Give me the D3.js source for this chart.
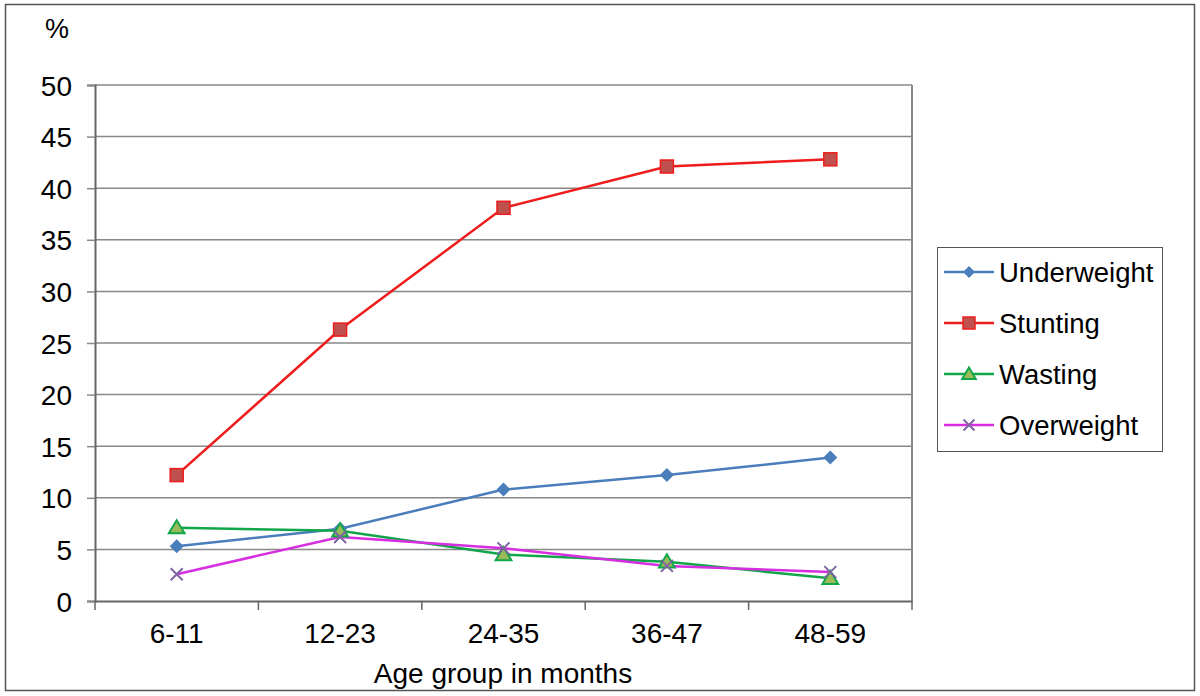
<!DOCTYPE html>
<html><head><meta charset="utf-8">
<script src="https://cdn.jsdelivr.net/npm/d3@7"></script>
<style>body{margin:0;background:#fff}svg{display:block}text{font-family:"Liberation Sans",Arial,sans-serif;fill:#000}</style>
</head><body><svg id="c" width="1200" height="696"></svg>
<script>
const categories = ["6-11","12-23","24-35","36-47","48-59"];
const underweight = [5.3, 7.0, 10.8, 12.2, 13.9];
const stunting = [12.2, 26.3, 38.1, 42.1, 42.8];
const wasting = [7.1, 6.8, 4.5, 3.8, 2.2];
const overweight = [2.6, 6.2, 5.1, 3.4, 2.8];
const yTicks = [0,5,10,15,20,25,30,35,40,45,50];
const seriesNames = ["Underweight","Stunting","Wasting","Overweight"];

const series = [
  {name: seriesNames[0], values: underweight, color: "#4a7ebb", marker: "diamond"},
  {name: seriesNames[1], values: stunting, color: "#ee1c1c", marker: "square"},
  {name: seriesNames[2], values: wasting, color: "#12a64a", marker: "triangle"},
  {name: seriesNames[3], values: overweight, color: "#d62ee0", marker: "x"}
];

const svg = d3.select("#c");
const L = 95, R = 912, T = 85, B = 601;
const FONT = "Liberation Sans, Arial, sans-serif";

svg.append("rect").attr("x",5.5).attr("y",4.5).attr("width",1189).attr("height",686)
  .attr("fill","none").attr("stroke","#555").attr("stroke-width",1.5);

const x = d3.scaleBand().domain(categories).range([L,R]);
const y = d3.scaleLinear().domain([0,50]).range([B,T]);

// gridlines
svg.append("g").selectAll("line").data(yTicks.filter(d=>d>0)).join("line")
  .attr("x1",L).attr("x2",R).attr("y1",d=>y(d)).attr("y2",d=>y(d))
  .attr("stroke","#888").attr("stroke-width",1.5);
// plot right border
svg.append("line").attr("x1",R).attr("x2",R).attr("y1",T).attr("y2",B).attr("stroke","#888").attr("stroke-width",2);

// y axis
const ya = svg.append("g").attr("transform",`translate(${L},0)`)
  .call(d3.axisLeft(y).tickValues(yTicks).tickSize(8).tickPadding(15));
ya.select(".domain").attr("stroke","#666").attr("stroke-width",2);
ya.selectAll(".tick line").attr("stroke","#888").attr("stroke-width",1.5);
ya.selectAll(".tick text").attr("font-size",28).attr("fill","#000").attr("dy","0.36em")
  .attr("font-family",FONT);

// x axis
const xa = svg.append("g").attr("transform",`translate(0,${B})`)
  .call(d3.axisBottom(x).tickSize(0).tickPadding(22));
xa.select(".domain").attr("stroke","#666").attr("stroke-width",2);
xa.selectAll(".tick text").attr("font-size",28).attr("fill","#000").attr("font-family",FONT);
// boundary ticks
const bounds = categories.map(c=>x(c)).concat([R]);
svg.append("g").selectAll("line").data(bounds).join("line")
  .attr("x1",d=>d).attr("x2",d=>d).attr("y1",B).attr("y2",B+9)
  .attr("stroke","#666").attr("stroke-width",1.5);

svg.append("text").attr("x",503).attr("y",683).attr("text-anchor","middle")
  .attr("font-size",28).attr("font-family",FONT)
  .text("Age group in months");
svg.append("text").attr("x",57).attr("y",38).attr("text-anchor","middle").attr("font-size",27).text("%");

const cx = c => x(c) + x.bandwidth()/2;
function marker(g, type, color, s) {
  if (type === "diamond") {
    g.append("path").attr("d",`M0,${-s}L${s},0L0,${s}L${-s},0Z`).attr("fill",color);
  } else if (type === "square") {
    g.append("rect").attr("x",-s).attr("y",-s).attr("width",2*s).attr("height",2*s)
      .attr("fill","#c0504d").attr("stroke",color).attr("stroke-width",1.5);
  } else if (type === "triangle") {
    g.append("path").attr("d",`M0,${-s}L${s*1.05},${s*0.75}L${-s*1.05},${s*0.75}Z`)
      .attr("fill","#9bbb59").attr("stroke",color).attr("stroke-width",2);
  } else {
    g.append("path").attr("d",`M${-s},${-s}L${s},${s}M${s},${-s}L${-s},${s}`)
      .attr("stroke","#8064a2").attr("stroke-width",2).attr("fill","none");
  }
}

const line = d3.line().x((d,i)=>cx(categories[i])).y(d=>y(d));
series.forEach(s => {
  svg.append("path").datum(s.values).attr("d",line).attr("fill","none")
    .attr("stroke",s.color).attr("stroke-width",2.5);
});
series.forEach(s => {
  s.values.forEach((v,i) => {
    const g = svg.append("g").attr("transform",`translate(${cx(categories[i])},${y(v)})`);
    marker(g, s.marker, s.color, s.marker==="square"?6.5:s.marker==="triangle"?7.5:s.marker==="x"?6:7);
  });
});

// legend
svg.append("rect").attr("x",937.5).attr("y",247.5).attr("width",225).attr("height",204)
  .attr("fill","#fff").attr("stroke","#555").attr("stroke-width",1);
series.forEach((s,i) => {
  const ly = 272 + i*51;
  svg.append("line").attr("x1",944).attr("x2",994).attr("y1",ly).attr("y2",ly)
    .attr("stroke",s.color).attr("stroke-width",2.5);
  const g = svg.append("g").attr("transform",`translate(969,${ly})`);
  marker(g, s.marker, s.color, s.marker==="square"?6:s.marker==="triangle"?6.5:s.marker==="x"?5.5:6);
  svg.append("text").attr("x",999).attr("y",ly).attr("dy","0.36em").attr("font-size",27.5).text(s.name);
});
</script></body></html>
